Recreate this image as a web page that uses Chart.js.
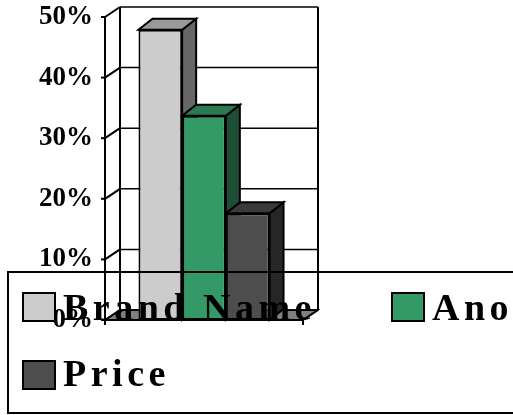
<!DOCTYPE html>
<html>
<head>
<meta charset="utf-8">
<script src="https://cdn.jsdelivr.net/npm/chart.js@4.4.1/dist/chart.umd.min.js"></script>
<style>
  html, body { margin: 0; padding: 0; background: #ffffff; }
  #wrap { width: 513px; height: 415px; }
</style>
</head>
<body>
<div id="wrap"><canvas id="c" width="513" height="415"></canvas></div>
<script>
// ---- data ----
const categories = ['Choice'];
const seriesNames = ['Brand Name', 'Another', 'Price'];
const brandNameValues = [47.9];
const anotherValues = [33.7];
const priceValues = [17.6];
const yTickValues = [0, 10, 20, 30, 40, 50];

// ---- styles ----
const SERIF = '"Liberation Serif", "Times New Roman", serif';
const frontColors = ['#cccccc', '#339966', '#4d4d4d'];
const topColors = ['#999999', '#2a7a52', '#3a3a3a'];
const sideColors = ['#666666', '#1e4d36', '#262626'];

const WALL_DX = 15, WALL_DY = -10;
const BAR_DX = 14, BAR_DY = -11;

function poly(ctx, pts, fill, stroke, lw) {
  ctx.beginPath();
  ctx.moveTo(pts[0][0], pts[0][1]);
  for (let i = 1; i < pts.length; i++) ctx.lineTo(pts[i][0], pts[i][1]);
  ctx.closePath();
  if (fill) { ctx.fillStyle = fill; ctx.fill(); }
  if (stroke) { ctx.strokeStyle = stroke; ctx.lineWidth = lw || 2; ctx.stroke(); }
}
function line(ctx, x1, y1, x2, y2, lw) {
  ctx.beginPath();
  ctx.moveTo(x1, y1); ctx.lineTo(x2, y2);
  ctx.lineWidth = lw || 2; ctx.strokeStyle = '#000'; ctx.stroke();
}

const threeD = {
  id: 'threeD',
  beforeDatasetsDraw(chart) {
    const { ctx, chartArea, scales } = chart;
    const { left, right } = chartArea;
    const y = scales.y;
    ctx.save();
    ctx.lineJoin = 'miter';
    // floor
    const y0 = y.getPixelForValue(0);
    poly(ctx, [[left, y0], [right, y0], [right + WALL_DX, y0 + WALL_DY], [left + WALL_DX, y0 + WALL_DY]], '#808080', '#000', 1.5);
    // back wall gridlines and side ticks
    yTickValues.forEach(v => {
      const yf = y.getPixelForValue(v);
      const yb = yf + WALL_DY;
      line(ctx, left + WALL_DX, yb, right + WALL_DX, yb, 1.5);
      line(ctx, left, yf, left + WALL_DX, yb, 2);
      line(ctx, left - 4, yf, left, yf, 2);
    });
    const yTop = y.getPixelForValue(yTickValues[yTickValues.length - 1]);
    // back wall verticals
    line(ctx, left + WALL_DX, yTop + WALL_DY, left + WALL_DX, y0 + WALL_DY, 2);
    line(ctx, right + WALL_DX, yTop + WALL_DY, right + WALL_DX, y0 + WALL_DY, 2);
    // front axis
    line(ctx, left, yTop, left, y0 + 5, 2);
    // floor front edge and right diagonal
    line(ctx, left, y0, right, y0, 2);
    line(ctx, right, y0, right + WALL_DX, y0 + WALL_DY, 2);
    line(ctx, right, y0, right, y0 + 5, 2);

    // bar tops and sides
    chart.data.datasets.forEach((ds, i) => {
      const meta = chart.getDatasetMeta(i);
      meta.data.forEach(bar => {
        const p = bar.getProps(['x', 'y', 'base', 'width'], true);
        const l = p.x - p.width / 2, r = p.x + p.width / 2;
        poly(ctx, [[r, p.y], [r + BAR_DX, p.y + BAR_DY], [r + BAR_DX, p.base + BAR_DY], [r, p.base]], sideColors[i], '#000', 2);
        poly(ctx, [[l, p.y], [r, p.y], [r + BAR_DX, p.y + BAR_DY], [l + BAR_DX, p.y + BAR_DY]], topColors[i], '#000', 2);
      });
    });
    ctx.restore();
  },
  afterDraw(chart) {
    const ctx = chart.ctx;
    ctx.save();
    ctx.letterSpacing = '4.5px';
    // legend box (no fill)
    ctx.lineWidth = 2;
    ctx.strokeStyle = '#000';
    ctx.strokeRect(8, 272, 620, 141);
    const items = [
      { sx: 23, sy: 293, tx: 63, ty: 320 },
      { sx: 392, sy: 293, tx: 432, ty: 320 },
      { sx: 23, sy: 361, tx: 63, ty: 386 }
    ];
    ctx.font = 'bold 38px ' + SERIF;
    ctx.textBaseline = 'alphabetic';
    ctx.textAlign = 'left';
    chart.data.datasets.forEach((ds, i) => {
      const it = items[i];
      ctx.fillStyle = frontColors[i];
      ctx.fillRect(it.sx, it.sy, 32, 28);
      ctx.lineWidth = 2;
      ctx.strokeRect(it.sx, it.sy, 32, 28);
      ctx.fillStyle = '#000';
      ctx.fillText(ds.label, it.tx, it.ty);
    });
    ctx.restore();
  }
};

const seriesValues = [brandNameValues, anotherValues, priceValues];

new Chart(document.getElementById('c'), {
  type: 'bar',
  data: {
    labels: categories,
    datasets: seriesNames.map((name, i) => ({
      label: name,
      data: seriesValues[i],
      backgroundColor: frontColors[i],
      borderColor: '#000',
      borderWidth: 2,
      borderSkipped: false
    }))
  },
  options: {
    responsive: false,
    animation: false,
    devicePixelRatio: 1,
    layout: { padding: { top: 17, bottom: 95, right: 210, left: 0 } },
    datasets: { bar: { categoryPercentage: 0.662, barPercentage: 1.0 } },
    plugins: { legend: { display: false }, tooltip: { enabled: false } },
    scales: {
      x: { display: false },
      y: {
        min: 0, max: 50,
        afterFit(scale) { scale.width = 105; scale.paddingTop = 0; scale.paddingBottom = 0; },
        afterBuildTicks(scale) { scale.ticks = yTickValues.map(v => ({ value: v })); },
        grid: { display: false, drawTicks: false },
        border: { display: false },
        ticks: {
          padding: 12,
          color: '#000',
          font: { family: SERIF, size: 27, weight: 'bold' },
          callback: v => v + '%'
        }
      }
    }
  },
  plugins: [threeD]
});
</script>
</body>
</html>
